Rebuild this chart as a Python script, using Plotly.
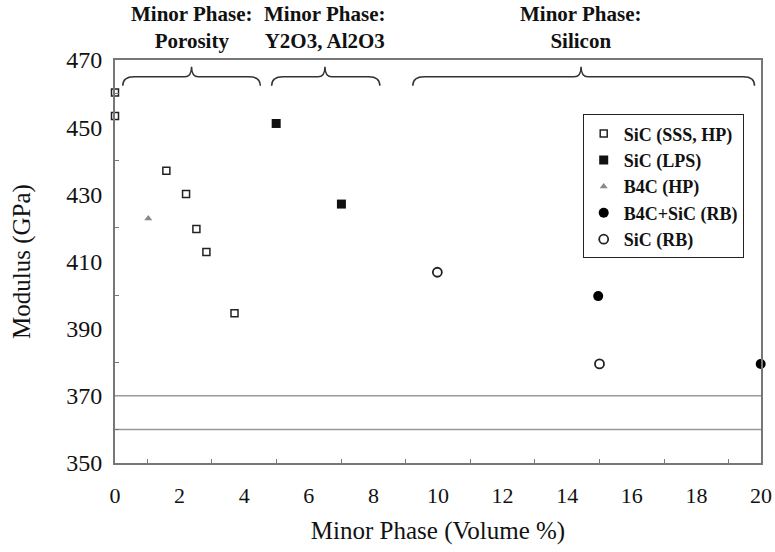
import plotly.graph_objects as go

# ---- data ----
sss_hp_x = [0.0, 0.0, 1.59, 2.2, 2.52, 2.83, 3.70]
sss_hp_y = [460.3, 453.3, 437.0, 430.1, 419.7, 412.8, 394.6]
lps_x = [4.99, 7.01]
lps_y = [451.1, 427.1]
b4c_hp_x = [1.03]
b4c_hp_y = [422.8]
b4c_sic_rb_x = [14.96, 19.99]
b4c_sic_rb_y = [399.7, 379.5]
sic_rb_x = [9.98, 15.0]
sic_rb_y = [406.8, 379.5]
ref_lines = [370, 360]

groups = ["Minor Phase:<br>Porosity", "Minor Phase:<br>Y2O3, Al2O3", "Minor Phase:<br>Silicon"]
group_start = [0.24, 4.85, 9.22]
group_end = [4.5, 8.2, 19.8]
group_mid = [2.37, 6.5, 14.43]

serif = "Liberation Serif, Times New Roman, DejaVu Serif, serif"

fig = go.Figure()
fig.add_trace(go.Scatter(x=sss_hp_x, y=sss_hp_y, mode="markers", name="SiC (SSS, HP)",
                         marker=dict(symbol="square-open", size=7, color="#222", line=dict(width=1.5)),
                         cliponaxis=False))
fig.add_trace(go.Scatter(x=lps_x, y=lps_y, mode="markers", name="SiC (LPS)",
                         marker=dict(symbol="square", size=9, color="#111"), cliponaxis=False))
fig.add_trace(go.Scatter(x=b4c_hp_x, y=b4c_hp_y, mode="markers", name="B4C (HP)",
                         marker=dict(symbol="triangle-up", size=7, color="#888"), cliponaxis=False))
fig.add_trace(go.Scatter(x=b4c_sic_rb_x, y=b4c_sic_rb_y, mode="markers", name="B4C+SiC (RB)",
                         marker=dict(symbol="circle", size=10, color="#000"), cliponaxis=False))
fig.add_trace(go.Scatter(x=sic_rb_x, y=sic_rb_y, mode="markers", name="SiC (RB)",
                         marker=dict(symbol="circle-open", size=9, color="#222", line=dict(width=1.8)),
                         cliponaxis=False))

shapes = []
for v in ref_lines:
    shapes.append(dict(type="line", xref="paper", x0=0, x1=1, yref="y", y0=v, y1=v,
                       line=dict(color="#999", width=1.5), layer="below"))

# curly braces
y_end, y_bar, y_peak = 462.3, 465.0, 468.0
for s, e, m in zip(group_start, group_end, group_mid):
    c = 0.35
    path = (f"M {s},{y_end} Q {s},{y_bar} {s+c},{y_bar} L {m-c*0.6},{y_bar} "
            f"Q {m},{y_bar} {m},{y_peak} Q {m},{y_bar} {m+c*0.6},{y_bar} "
            f"L {e-c},{y_bar} Q {e},{y_bar} {e},{y_end}")
    shapes.append(dict(type="path", xref="x", yref="y", path=path,
                       line=dict(color="#333", width=1.5)))

annotations = []
for g, m in zip(groups, group_mid):
    annotations.append(dict(x=m, xref="x", y=1.0, yref="paper", yshift=5, text=g,
                            showarrow=False, yanchor="bottom", align="center",
                            font=dict(family=serif, size=21, color="#111", weight="bold")))

fig.update_layout(
    width=775, height=552,
    margin=dict(l=115, r=14, t=60, b=89),
    plot_bgcolor="white", paper_bgcolor="white",
    font=dict(family=serif, color="#111"),
    shapes=shapes, annotations=annotations,
    legend=dict(x=0.724, y=0.865, xanchor="left", yanchor="top",
                bordercolor="#222", borderwidth=1, bgcolor="white",
                font=dict(family=serif, size=18, color="#111", weight="bold"),
                tracegroupgap=0, itemwidth=30),
    showlegend=True,
)
fig.update_xaxes(range=[0, 20], dtick=2, tick0=0, showgrid=False, zeroline=False,
                 showline=True, linecolor="#777", linewidth=2, mirror=True, automargin=False,
                 ticks="", ticklabelstandoff=12, ticklabeloverflow="allow",
                 tickfont=dict(family=serif, size=22, color="#111"),
                 minor=dict(ticks="inside", dtick=1, ticklen=4, tickcolor="#777"),
                 title=dict(text="Minor Phase (Volume %)", font=dict(family=serif, size=25, color="#111"),
                            standoff=14))
fig.update_yaxes(range=[350, 470], dtick=20, tick0=350, showgrid=False, zeroline=False,
                 showline=True, linecolor="#777", linewidth=2, mirror=True, automargin=False,
                 ticks="", ticklabelstandoff=6,
                 tickfont=dict(family=serif, size=24, color="#111"),
                 minor=dict(ticks="inside", dtick=10, ticklen=4, tickcolor="#777"),
                 title=dict(text="Modulus (GPa)", font=dict(family=serif, size=25, color="#111"),
                            standoff=28))

fig.write_html("out.html")
